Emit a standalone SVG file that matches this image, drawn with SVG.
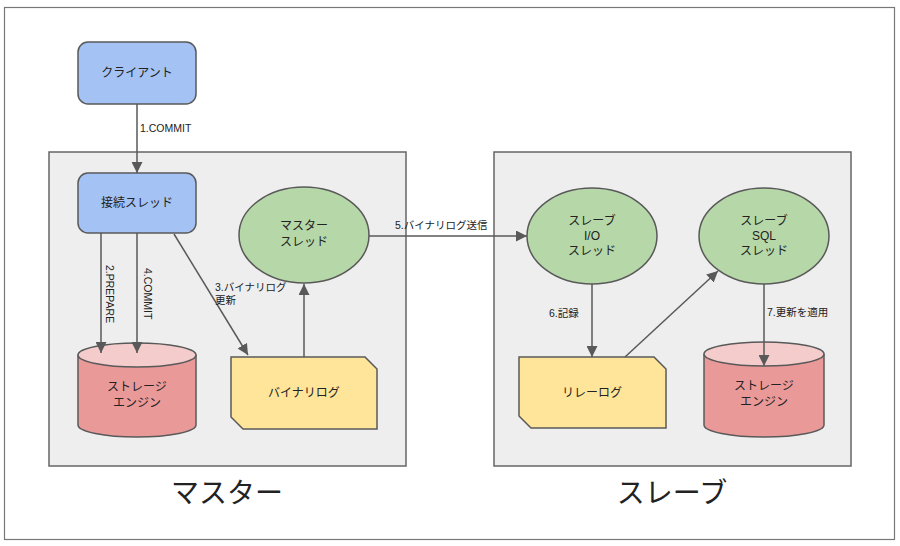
<svg xmlns="http://www.w3.org/2000/svg" width="900" height="546" viewBox="0 0 900 546">
<defs>
<marker id="ah" viewBox="0 0 10 10" refX="10" refY="5" markerWidth="11" markerHeight="11" markerUnits="userSpaceOnUse" orient="auto">
<path d="M0,0 L10,5 L0,10 Z" fill="#595959"/>
</marker>
<style>
text{font-family:"Liberation Sans","Noto Sans CJK JP",sans-serif;fill:#222;}
.lbl{font-size:12px;text-anchor:middle;}
.el{font-size:10.5px;}
.big{font-size:28px;text-anchor:middle;}
.panel{fill:#eeeeee;stroke:#666;stroke-width:1.5;}
.node{stroke:#595959;stroke-width:1.5;}
.blue{fill:#a4c2f4;}
.green{fill:#b6d7a8;}
.yellow{fill:#ffe599;}
.red{fill:#ea9999;}
.redtop{fill:#f4cccc;}
.conn{fill:none;stroke:#595959;stroke-width:1.5;marker-end:url(#ah);}
</style>
</defs>
<rect x="0" y="0" width="900" height="546" fill="#fff"/>
<rect x="4.5" y="7.5" width="890" height="532" fill="#fff" stroke="#777" stroke-width="1.2"/>

<g id="master-panel">
<rect class="panel" x="49" y="152" width="357" height="314"/>
<text class="big" x="227" y="503">マスター</text>
</g>
<g id="slave-panel">
<rect class="panel" x="494" y="152" width="357" height="314"/>
<text class="big" x="672" y="503">スレーブ</text>
</g>

<g id="client">
<rect class="node blue" x="78" y="42" width="118" height="62" rx="10"/>
<text class="lbl" x="137" y="77">クライアント</text>
</g>
<g id="conn-thread">
<rect class="node blue" x="78" y="173" width="118" height="60" rx="10"/>
<text class="lbl" x="137" y="207">接続スレッド</text>
</g>
<g id="master-thread">
<ellipse class="node green" cx="304" cy="235" rx="65" ry="48"/>
<text class="lbl" x="304" y="230">マスター</text>
<text class="lbl" x="304" y="246">スレッド</text>
</g>
<g id="master-storage">
<path class="node red" d="M78,355 L78,425 A59,12 0 0 0 196,425 L196,355"/>
<ellipse class="node redtop" cx="137" cy="355" rx="59" ry="12"/>
<text class="lbl" x="137" y="391">ストレージ</text>
<text class="lbl" x="137" y="407">エンジン</text>
</g>
<g id="binlog">
<path class="node yellow" d="M231,357 L365,357 L377,369 L377,429 L243,429 L231,417 Z"/>
<text class="lbl" x="304" y="397">バイナリログ</text>
</g>
<g id="slave-io">
<ellipse class="node green" cx="592" cy="236" rx="65" ry="48"/>
<text class="lbl" x="592" y="225">スレーブ</text>
<text class="lbl" x="592" y="240">I/O</text>
<text class="lbl" x="592" y="255">スレッド</text>
</g>
<g id="slave-sql">
<ellipse class="node green" cx="764" cy="236" rx="65" ry="48"/>
<text class="lbl" x="764" y="225">スレーブ</text>
<text class="lbl" x="764" y="240">SQL</text>
<text class="lbl" x="764" y="255">スレッド</text>
</g>
<g id="relaylog">
<path class="node yellow" d="M519,357 L654,357 L666,369 L666,428 L531,428 L519,416 Z"/>
<text class="lbl" x="592" y="397">リレーログ</text>
</g>
<g id="slave-storage">
<path class="node red" d="M704,354 L704,425 A60,12 0 0 0 824,425 L824,354"/>
<ellipse class="node redtop" cx="764" cy="354" rx="60" ry="12"/>
<text class="lbl" x="764" y="390">ストレージ</text>
<text class="lbl" x="764" y="406">エンジン</text>
</g>

<g id="connectors">
<path class="conn" d="M137,104 L137,173"/>
<text class="el" x="140" y="132">1.COMMIT</text>
<path class="conn" d="M101,233 L101,353"/>
<text class="el" transform="translate(106,265) rotate(90)">2.PREPARE</text>
<path class="conn" d="M137,233 L137,353"/>
<text class="el" transform="translate(144,268) rotate(90)">4.COMMIT</text>
<path class="conn" d="M174,234 L248,355"/>
<text class="el" x="215" y="291">3.バイナリログ</text>
<text class="el" x="215" y="304">更新</text>
<path class="conn" d="M304,357 L304,284"/>
<path class="conn" d="M369,236 L527,236"/>
<text class="el" x="395" y="229">5.バイナリログ送信</text>
<path class="conn" d="M592,284 L592,357"/>
<text class="el" x="549" y="317">6.記録</text>
<path class="conn" d="M625,357 L718,271"/>
<path class="conn" d="M764,284 L764,366"/>
<text class="el" x="767" y="316">7.更新を適用</text>
</g>
</svg>
